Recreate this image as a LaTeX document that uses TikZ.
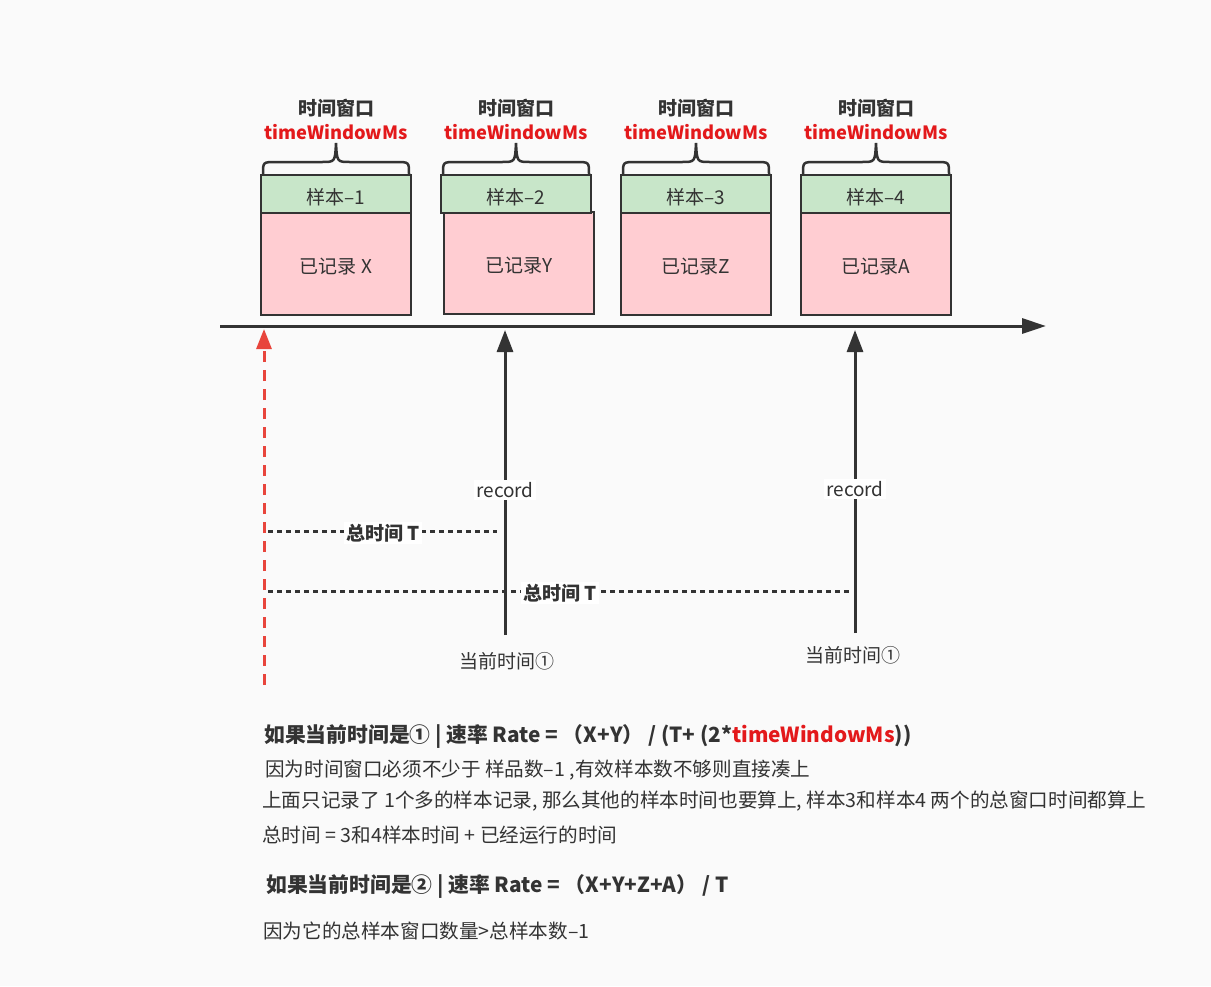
\documentclass[tikz,border=0pt]{standalone}
\usepackage{fontspec}
\setmainfont{Noto Sans CJK SC}
\usetikzlibrary{arrows.meta}
\definecolor{ink}{HTML}{333333}
\definecolor{bgc}{HTML}{FAFAFA}
\definecolor{tred}{HTML}{E3191B}
\definecolor{dred}{HTML}{E8453C}
\definecolor{gfill}{HTML}{C8E6C9}
\definecolor{pfill}{HTML}{FFCDD2}
\newcommand{\fsz}{\fontsize{19}{23}\selectfont}
\newcommand{\fbody}{\fontsize{19.6}{23}\selectfont}
\tikzset{
  greenbox/.style={draw=ink, line width=2.5pt, fill=gfill, minimum width=150pt, minimum height=38pt, inner sep=0pt, font=\fsz, text=ink, text height=20pt, text depth=0pt},
  pinkbox/.style={draw=ink, line width=2.5pt, fill=pfill, minimum width=150pt, minimum height=102pt, inner sep=0pt, font=\fsz, text=ink, text height=19pt, text depth=0pt},
  title/.style={font=\fsz\bfseries, text=ink, inner sep=1pt},
  redtitle/.style={font=\fontsize{18.3}{22}\selectfont\bfseries, text=tred, inner sep=1pt},
  vline/.style={draw=ink, line width=3pt, -{Triangle[length=22pt,width=16pt]}},
  axisline/.style={draw=ink, line width=3pt, -{Triangle[length=24pt,width=15pt]}},
  redline/.style={draw=dred, line width=3pt, dash pattern=on 11pt off 8pt, -{Triangle[length=20pt,width=15pt]}},
  dotline/.style={draw=ink, line width=3pt, dash pattern=on 5pt off 4pt},
  bracestyle/.style={draw=ink, line width=2.5pt},
  lbl/.style={font=\fsz, text=ink, fill=white, inner sep=2pt},
  blbl/.style={font=\fsz\bfseries, text=ink, fill=white, inner sep=2pt},
  plain/.style={font=\fbody, text=ink, inner sep=0pt, anchor=west},
  bplain/.style={font=\fontsize{20.8}{24}\selectfont\bfseries, text=ink, inner sep=0pt, anchor=west}
}
\begin{document}
\begin{tikzpicture}[x=1pt,y=-1pt]
\fill[bgc] (0,0) rectangle (1211,986);
\useasboundingbox (0,0) rectangle (1211,986);

% boxes
\node[pinkbox] (p1) at (336,264) {已记录 X};
\node[greenbox] (g1) at (336,194) {样本–1};
\node[pinkbox] (p2) at (519,263) {已记录Y};
\node[greenbox] (g2) at (516,194) {样本–2};
\node[pinkbox] (p3) at (696,264) {已记录Z};
\node[greenbox] (g3) at (696,194) {样本–3};
\node[pinkbox] (p4) at (876,264) {已记录A};
\node[greenbox] (g4) at (876,194) {样本–4};

% braces and titles
\foreach \c/\n in {336/1,516/2,696/3,876/4}{
  \draw[bracestyle] (\c-73,174) .. controls (\c-73,162) .. (\c-60,162) -- (\c-14,162)
     .. controls (\c-1,162) .. (\c,143) .. controls (\c+1,162) .. (\c+14,162) -- (\c+60,162)
     .. controls (\c+73,162) .. (\c+73,174);
  \node[title] (t\n) at (\c,108) {时间窗口};
  \node[redtitle] (r\n) at (\c,132) {timeWindowMs};
}

% axis
\coordinate (axs) at (220,326);
\coordinate (axe) at (1046,326);
\draw[axisline] (axs) -- (axe);

% red dashed line
\coordinate (rdb) at (264,685);
\coordinate (rdt) at (264,329);
\draw[redline] (rdb) -- (rdt);

% vertical record arrows
\coordinate (v1b) at (505,635);
\coordinate (v1t) at (505,330);
\coordinate (v2b) at (855,633);
\coordinate (v2t) at (855,330);
\draw[vline] (v1b) -- (v1t);
\draw[vline] (v2b) -- (v2t);
\node[lbl] (rec1) at (505,490) {record};
\node[lbl] (rec2) at (855,489) {record};
\node[font=\fsz, text=ink] (cur1) at (507,661) {当前时间①};
\node[font=\fsz, text=ink] (cur2) at (853,655) {当前时间①};

% dotted total time lines
\coordinate (d1s) at (268,531);
\coordinate (d1e) at (497,531);
\coordinate (d2s) at (268,591);
\coordinate (d2e) at (851,591);
\draw[dotline] (d1s) -- (d1e);
\draw[dotline] (d2s) -- (d2e);
\node[blbl] (tt1) at (383,533) {总时间 T};
\node[blbl] (tt2) at (560,593) {总时间 T};

% explanation text
\node[bplain] (l1) at (264,736) {如果当前时间是① | 速率 Rate = （X+Y） / (T+ (2*\textcolor{tred}{timeWindowMs}))};
\node[plain] (l2) at (265,770) {因为时间窗口必须不少于 样品数–1 ,有效样本数不够则直接凑上};
\node[plain] (l3) at (262,801) {上面只记录了 1个多的样本记录, 那么其他的样本时间也要算上, 样本3和样本4 两个的总窗口时间都算上};
\node[plain] (l4) at (262,835) {总时间 = 3和4样本时间 + 已经运行的时间};
\node[bplain] (l5) at (266,886) {如果当前时间是② | 速率 Rate = （X+Y+Z+A） / T};
\node[plain] (l6) at (263,931) {因为它的总样本窗口数量>总样本数–1};
\end{tikzpicture}
\end{document}
